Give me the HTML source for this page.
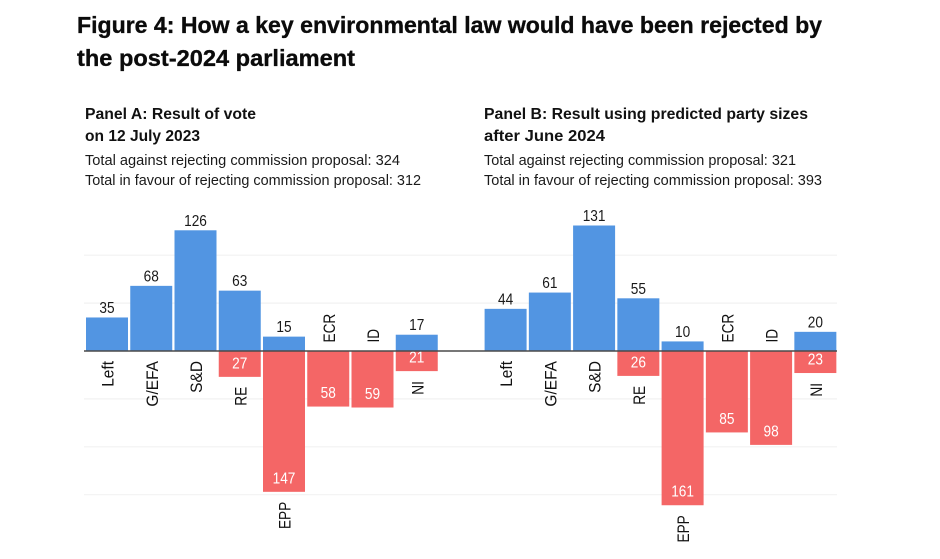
<!DOCTYPE html>
<html lang="en">
<head>
<meta charset="utf-8">
<title>Figure 4</title>
<style>
  html, body { margin: 0; padding: 0; background: #fff; }
  svg { display: block; font-family: "Liberation Sans", sans-serif; filter: blur(0.3px); }
  .title { font-size: 23.5px; font-weight: 700; fill: #0b0b0b; stroke: #0b0b0b; stroke-width: .35px; }
  .panel { font-size: 16px; font-weight: 700; fill: #111; }
  .sub { font-size: 14.5px; fill: #1a1a1a; }
  .val { font-size: 16px; fill: #1a1a1a; text-anchor: middle; }
  .neg { fill: #fff; }
  .party { font-size: 17px; fill: #111; }
</style>
</head>
<body>
<svg id="chart" width="940" height="559" viewBox="0 0 940 559" xmlns="http://www.w3.org/2000/svg">
  <rect width="940" height="559" fill="#fff"/>
  <text class="title" x="77" y="33" textLength="745" lengthAdjust="spacingAndGlyphs">Figure 4: How a key environmental law would have been rejected by</text>
  <text class="title" x="77" y="66" textLength="278" lengthAdjust="spacingAndGlyphs">the post-2024 parliament</text>

  <text class="panel" x="85" y="119" textLength="171" lengthAdjust="spacingAndGlyphs">Panel A: Result of vote</text>
  <text class="panel" x="85" y="141" textLength="115" lengthAdjust="spacingAndGlyphs">on 12 July 2023</text>
  <text class="sub" x="85" y="165" textLength="315" lengthAdjust="spacingAndGlyphs">Total against rejecting commission proposal: 324</text>
  <text class="sub" x="85" y="185" textLength="336" lengthAdjust="spacingAndGlyphs">Total in favour of rejecting commission proposal: 312</text>

  <text class="panel" x="484" y="119" textLength="324" lengthAdjust="spacingAndGlyphs">Panel B: Result using predicted party sizes</text>
  <text class="panel" x="484" y="141" textLength="121" lengthAdjust="spacingAndGlyphs">after June 2024</text>
  <text class="sub" x="484" y="165" textLength="312" lengthAdjust="spacingAndGlyphs">Total against rejecting commission proposal: 321</text>
  <text class="sub" x="484" y="185" textLength="338" lengthAdjust="spacingAndGlyphs">Total in favour of rejecting commission proposal: 393</text>

  <g id="grid"></g>
  <g id="panel-a"></g>
  <g id="panel-b"></g>
  <line x1="84" x2="837" y1="351" y2="351" stroke="#4a4a4a" stroke-width="1.4"/>
</svg>
<script>
const parties = ['Left', 'G/EFA', 'S&D', 'RE', 'EPP', 'ECR', 'ID', 'NI'];
const panelAAgainst = [35, 68, 126, 63, 15, 0, 0, 17];
const panelAFavour = [0, 0, 0, 27, 147, 58, 59, 21];
const panelBAgainst = [44, 61, 131, 55, 10, 0, 0, 20];
const panelBFavour = [0, 0, 0, 26, 161, 85, 98, 23];
const gridTicks = [100, 50, -50, -100, -150];

const NS = 'http://www.w3.org/2000/svg';
const BLUE = '#5295e2';
const RED = '#f46666';

function yScale(v) { return 351 - v * 0.958; }
function xScale(origin, i) { return origin + i * 44.25; }
const BAR_WIDTH = 42;

function make(parent, tag, attrs, text) {
  const el = document.createElementNS(NS, tag);
  for (const k in attrs) el.setAttribute(k, attrs[k]);
  if (text !== undefined) el.textContent = text;
  parent.appendChild(el);
  return el;
}

const gridGroup = document.getElementById('grid');
gridTicks.forEach(function (t) {
  const line = make(gridGroup, 'line', { x1: 84, x2: 837, y1: yScale(t), y2: yScale(t), stroke: '#f2f2f2', 'stroke-width': 1.2 });
  
  
});

function drawPanel(groupId, origin, against, favour) {
  const g = document.getElementById(groupId);
  parties.forEach(function (party, i) {
    const x = xScale(origin, i);
    const cx = x + BAR_WIDTH / 2;
    const pos = against[i];
    const neg = favour[i];

    if (neg > 0) {
      const r = make(g, 'rect', { x: x, y: yScale(0), width: BAR_WIDTH, height: yScale(-neg) - yScale(0), fill: RED });
      
      
    }
    if (pos > 0) {
      const r = make(g, 'rect', { x: x, y: yScale(pos), width: BAR_WIDTH, height: yScale(0) - yScale(pos), fill: BLUE });
      
      
      const s = String(pos);
      const t = make(g, 'text', { class: 'val', x: cx, y: yScale(pos) - 4.5, textLength: s.length * 7.6, lengthAdjust: 'spacingAndGlyphs' }, s);
      
      
    }
    if (neg > 0) {
      const s = String(neg);
      const t = make(g, 'text', { class: 'val neg', x: cx, y: yScale(-neg) - 8.5, textLength: s.length * 7.6, lengthAdjust: 'spacingAndGlyphs' }, s);
      
      
    }

    const above = pos === 0;
    const ly = above ? yScale(0) - 8.5 : yScale(-neg) + 10;
    const lbl = make(g, 'text', {
      class: 'party',
      transform: 'translate(' + (cx + 6.5) + ',' + ly + ') rotate(-90)',
      'text-anchor': above ? 'start' : 'end'
    }, party);
    
    
    const factor = /^[A-Z]+$/.test(party) ? 0.8 : 0.91;
    lbl.setAttribute('textLength', lbl.getComputedTextLength() * factor);
    lbl.setAttribute('lengthAdjust', 'spacingAndGlyphs');
  });
}

drawPanel('panel-a', 86, panelAAgainst, panelAFavour);
drawPanel('panel-b', 484.6, panelBAgainst, panelBFavour);
</script>
</body>
</html>
